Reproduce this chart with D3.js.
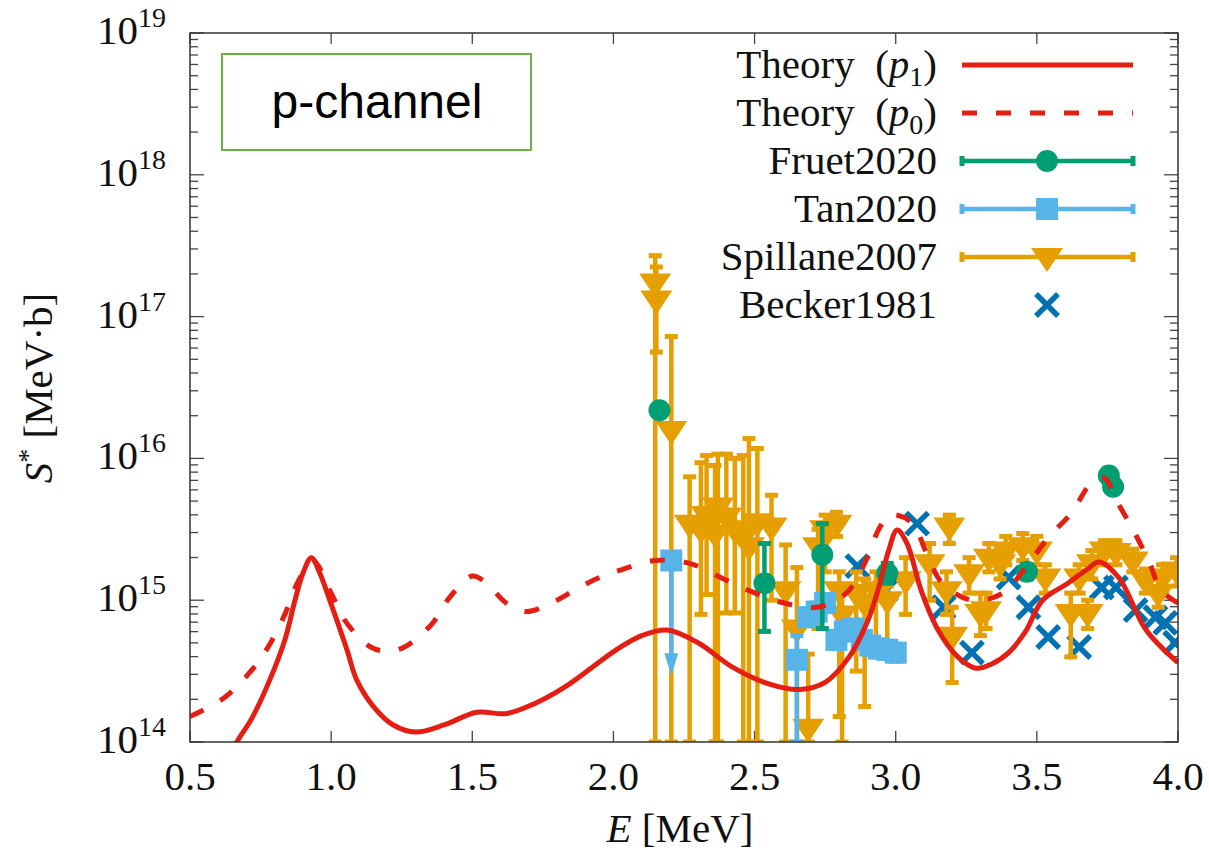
<!DOCTYPE html>
<html>
<head>
  <meta charset="utf-8">
  <script src="https://d3js.org/d3.v7.min.js"></script>
  <style>
    body { margin: 0; background: #fff; }
    text { font-family: "Liberation Serif", "DejaVu Serif", serif; fill: #111; }
  </style>
</head>
<body>
<div id="vis"></div>
<script>
  // values are log10(S*)
  var theoryP1 = [[0.60, 13.75], [0.666, 14.0], [0.72, 14.17], [0.783, 14.44], [0.836, 14.72], [0.872, 15.0],
    [0.90, 15.19], [0.93, 15.30], [0.96, 15.19], [0.995, 15.0], [1.056, 14.65], [1.09, 14.44], [1.15, 14.25],
    [1.22, 14.12], [1.30, 14.07], [1.40, 14.12], [1.516, 14.21],
    [1.62, 14.20], [1.72, 14.27], [1.83, 14.39], [2.01, 14.65], [2.10, 14.75], [2.19, 14.79], [2.30, 14.70],
    [2.42, 14.53], [2.55, 14.41], [2.66, 14.37], [2.75, 14.42], [2.835, 14.60], [2.90, 14.85], [2.94, 15.09],
    [2.975, 15.35], [3.005, 15.495], [3.04, 15.40], [3.09, 15.07], [3.15, 14.79], [3.22, 14.60], [3.285, 14.52],
    [3.34, 14.55], [3.40, 14.63], [3.46, 14.78], [3.52, 15.00], [3.61, 15.12], [3.68, 15.22], [3.72, 15.27],
    [3.79, 15.16], [3.887, 14.79], [4.0, 14.56]];

  var theoryP0 = [[0.5, 14.18], [0.62, 14.31], [0.72, 14.51], [0.78, 14.68], [0.836, 14.9], [0.88, 15.12],
    [0.935, 15.28], [1.0, 15.05], [1.055, 14.84], [1.14, 14.67], [1.20, 14.64], [1.26, 14.67], [1.356, 14.83],
    [1.42, 15.02], [1.50, 15.17], [1.55, 15.12], [1.62, 14.98], [1.69, 14.92], [1.78, 14.98], [1.87, 15.08], [1.95, 15.16],
    [2.02, 15.21], [2.15, 15.28], [2.27, 15.26], [2.38, 15.16], [2.49, 15.06], [2.605, 14.98], [2.72, 14.95],
    [2.825, 15.05], [2.895, 15.28], [2.94, 15.50], [2.98, 15.60], [3.055, 15.55], [3.11, 15.33], [3.165, 15.12],
    [3.27, 15.0], [3.38, 15.05], [3.46, 15.23], [3.54, 15.44], [3.62, 15.61], [3.695, 15.83], [3.74, 15.86],
    [3.78, 15.71], [3.84, 15.50], [3.90, 15.26], [3.94, 15.07], [4.0, 14.98]];

  // [E, value, low, high]
  var fruet2020 = [[2.163, 16.34, 16.30, 16.38], [2.535, 15.12, 14.78, 15.40], [2.74, 15.32, 14.80, 15.54],
    [2.97, 15.19, 15.12, 15.26], [3.465, 15.20, 15.15, 15.25], [3.755, 15.88, 15.85, 15.92], [3.77, 15.80, 15.77, 15.84]];

  var tan2020 = [[2.65, 14.58, 14.0, 14.75], [2.69, 14.88, 14.82, 14.94], [2.72, 14.92, 14.86, 14.98],
    [2.75, 14.98, 14.92, 15.04], [2.79, 14.72, 14.66, 14.78], [2.82, 14.78, 14.72, 14.84], [2.85, 14.80, 14.74, 14.86],
    [2.88, 14.72, 14.66, 14.78], [2.91, 14.68, 14.62, 14.74], [2.94, 14.66, 14.60, 14.72], [2.97, 14.65, 14.59, 14.71],
    [3.0, 14.63, 14.57, 14.69]];
  // upper limit drawn as an arrow: [E, value, arrow tip]
  var tan2020Limit = [[2.205, 15.28, 14.47]];

  var spillane2007 = [[2.148, 17.24, 14.0, 17.43], [2.152, 17.12, 16.75, 17.35], [2.205, 16.20, 14.0, 16.86],
    [2.27, 15.54, 14.0, 15.87], [2.31, 15.50, 14.90, 15.97], [2.33, 15.60, 15.04, 16.02], [2.36, 15.47, 14.0, 15.95],
    [2.37, 15.66, 14.0, 16.03], [2.40, 15.59, 14.91, 16.03], [2.43, 15.50, 14.91, 16.00], [2.46, 15.45, 14.0, 16.02],
    [2.48, 15.38, 14.0, 16.14], [2.51, 15.55, 14.0, 16.07], [2.56, 15.52, 15.0, 15.74], [2.61, 15.07, 14.0, 15.39],
    [2.65, 14.80, 14.0, 15.23], [2.69, 14.10, 14.0, 14.62], [2.725, 15.38, 14.8, 15.5], [2.75, 15.50, 15.2, 15.6],
    [2.79, 15.54, 15.45, 15.62],
    [2.80, 15.07, 14.18, 15.2], [2.81, 14.9, 14.0, 15.1], [2.86, 15.05, 14.5, 15.2], [2.89, 14.98, 14.25, 15.15],
    [2.93, 15.07, 14.6, 15.2], [2.97, 15.0, 14.7, 15.1], [3.035, 15.14, 14.9, 15.3], [3.12, 15.26, 15.0, 15.4],
    [3.19, 15.52, 15.4, 15.6], [3.18, 15.07, 14.9, 15.2], [3.20, 14.75, 14.42, 14.95], [3.26, 15.19, 15.05, 15.3],
    [3.30, 14.91, 14.75, 15.05], [3.32, 14.93, 14.8, 15.05], [3.33, 15.30, 15.2, 15.4], [3.37, 15.26, 15.15, 15.35],
    [3.39, 15.35, 15.25, 15.45], [3.45, 15.38, 15.28, 15.47], [3.50, 15.35, 15.25, 15.45], [3.53, 15.16, 15.05, 15.25],
    [3.62, 14.91, 14.60, 15.05], [3.65, 15.16, 15.05, 15.25], [3.68, 14.91, 14.80, 15.0], [3.695, 15.26, 15.15, 15.35],
    [3.74, 15.35, 15.25, 15.42], [3.78, 15.34, 15.25, 15.42], [3.84, 15.28, 15.2, 15.36], [3.885, 15.14, 15.05, 15.22],
    [3.93, 15.05, 14.95, 15.15], [3.945, 15.16, 15.05, 15.25], [3.995, 15.21, 15.1, 15.3]];

  var becker1981 = [[2.864, 15.24], [2.965, 15.07], [3.076, 15.54], [3.17, 14.95], [3.27, 14.63], [3.40, 15.16],
    [3.47, 14.95], [3.54, 14.74], [3.65, 14.67], [3.73, 15.09], [3.78, 15.09], [3.85, 14.93], [3.92, 14.88],
    [3.955, 14.84], [3.99, 14.70]];

  var xTicks = [0.5, 1.0, 1.5, 2.0, 2.5, 3.0, 3.5, 4.0];
  var yDecades = [14, 15, 16, 17, 18, 19];

  var red = '#e41e12', green = '#009e73', sky = '#56b4e9', orange = '#e69f00', blue = '#0072b2';

  var width = 1209, height = 858;
  var svg = d3.select('#vis').append('svg').attr('width', width).attr('height', height);

  var x = d3.scaleLinear().domain([0.5, 4.0]).range([190, 1178]);
  var y = d3.scaleLog().domain([1e14, 1e19]).range([742, 33]);
  var yv = function (v) { return y(Math.pow(10, v)); };

  svg.append('clipPath').attr('id', 'clip')
    .append('rect').attr('x', 190).attr('y', 33).attr('width', 988).attr('height', 709);

  // ticks
  var axisG = svg.append('g').attr('stroke', '#444').attr('stroke-width', 1.3);
  xTicks.forEach(function (t) {
    axisG.append('line').attr('x1', x(t)).attr('x2', x(t)).attr('y1', 742).attr('y2', 731);
    axisG.append('line').attr('x1', x(t)).attr('x2', x(t)).attr('y1', 33).attr('y2', 44);
  });
  yDecades.forEach(function (d) {
    axisG.append('line').attr('x1', 190).attr('x2', 204).attr('y1', yv(d)).attr('y2', yv(d));
    axisG.append('line').attr('x1', 1178).attr('x2', 1164).attr('y1', yv(d)).attr('y2', yv(d));
    if (d < 19) {
      for (var m = 2; m < 10; m++) {
        var yy = y(m * Math.pow(10, d));
        axisG.append('line').attr('x1', 190).attr('x2', 198).attr('y1', yy).attr('y2', yy);
        axisG.append('line').attr('x1', 1178).attr('x2', 1170).attr('y1', yy).attr('y2', yy);
      }
    }
  });

  // tick labels
  svg.selectAll('.xl').data(xTicks).enter().append('text')
    .attr('x', function (d) { return x(d); }).attr('y', 790)
    .attr('text-anchor', 'middle').style('font-size', '41px')
    .text(function (d) { return d.toFixed(1); });

  yDecades.forEach(function (d) {
    var t = svg.append('text').attr('x', 166).attr('y', yv(d) + 11)
      .attr('text-anchor', 'end').style('font-size', '41px');
    t.append('tspan').text('10');
    t.append('tspan').attr('dy', -17).style('font-size', '28px').text(d);
  });

  // axis titles
  var xt = svg.append('text').attr('x', 680).attr('y', 842).attr('text-anchor', 'middle').style('font-size', '41px');
  xt.append('tspan').style('font-style', 'italic').text('E');
  xt.append('tspan').text(' [MeV]');

  var yt = svg.append('text').attr('transform', 'translate(52,388) rotate(-90)')
    .attr('text-anchor', 'middle').style('font-size', '41px');
  yt.append('tspan').style('font-style', 'italic').text('S');
  yt.append('tspan').attr('dy', -15).style('font-size', '28px').text('*');
  yt.append('tspan').attr('dy', 15).text(' [MeV·b]');

  var plot = svg.append('g').attr('clip-path', 'url(#clip)');

  // Becker1981 crosses
  function cross(g, cx, cy, s) {
    g.append('path').attr('d', 'M' + (cx - s) + ',' + (cy - s) + 'L' + (cx + s) + ',' + (cy + s) +
      'M' + (cx - s) + ',' + (cy + s) + 'L' + (cx + s) + ',' + (cy - s))
      .attr('stroke', blue).attr('stroke-width', 5.5).attr('fill', 'none');
  }
  becker1981.forEach(function (d) { cross(plot, x(d[0]), yv(d[1]), 11); });

  function errBars(g, data, color, cap) {
    data.forEach(function (d) {
      var px = x(d[0]);
      g.append('line').attr('x1', px).attr('x2', px).attr('y1', yv(d[2])).attr('y2', yv(d[3]))
        .attr('stroke', color).attr('stroke-width', 4.5);
      [d[2], d[3]].forEach(function (v) {
        g.append('line').attr('x1', px - cap).attr('x2', px + cap).attr('y1', yv(v)).attr('y2', yv(v))
          .attr('stroke', color).attr('stroke-width', 5);
      });
    });
  }
  function tri(g, cx, cy, color) {
    g.append('path').attr('d', 'M' + (cx - 16) + ',' + (cy - 9) + 'L' + (cx + 16) + ',' + (cy - 9) + 'L' + cx + ',' + (cy + 15) + 'Z')
      .attr('fill', color);
  }

  // Spillane2007
  errBars(plot, spillane2007, orange, 6.5);
  spillane2007.forEach(function (d) { tri(plot, x(d[0]), yv(d[1]), orange); });

  // Tan2020
  errBars(plot, tan2020, sky, 6.5);
  tan2020Limit.forEach(function (d) {
    var px = x(d[0]);
    plot.append('line').attr('x1', px).attr('x2', px).attr('y1', yv(d[1])).attr('y2', yv(d[2]) - 18)
      .attr('stroke', sky).attr('stroke-width', 4.5);
    plot.append('path').attr('d', 'M' + (px - 7) + ',' + (yv(d[2]) - 22) + 'L' + (px + 7) + ',' + (yv(d[2]) - 22) + 'L' + px + ',' + yv(d[2]) + 'Z')
      .attr('fill', sky);
  });
  tan2020.concat(tan2020Limit).forEach(function (d) {
    plot.append('rect').attr('x', x(d[0]) - 11).attr('y', yv(d[1]) - 11).attr('width', 22).attr('height', 22).attr('fill', sky);
  });

  // Fruet2020
  errBars(plot, fruet2020, green, 6.5);
  fruet2020.forEach(function (d) {
    plot.append('circle').attr('cx', x(d[0])).attr('cy', yv(d[1])).attr('r', 11).attr('fill', green);
  });

  // theory curves
  var line = d3.line()
    .x(function (d) { return x(d[0]); })
    .y(function (d) { return yv(d[1]); })
    .curve(d3.curveCatmullRom.alpha(0.5));

  plot.append('path').attr('d', line(theoryP0)).attr('fill', 'none')
    .attr('stroke', red).attr('stroke-width', 5).attr('stroke-dasharray', '15,19');
  plot.append('path').attr('d', line(theoryP1)).attr('fill', 'none')
    .attr('stroke', red).attr('stroke-width', 5);

  // frame
  svg.append('rect').attr('x', 190).attr('y', 33).attr('width', 988).attr('height', 709)
    .attr('fill', 'none').attr('stroke', '#333').attr('stroke-width', 1.5);

  // channel label box
  svg.append('rect').attr('x', 222).attr('y', 54).attr('width', 309).attr('height', 96)
    .attr('fill', '#fff').attr('stroke', '#70ad47').attr('stroke-width', 2);
  svg.append('text').attr('x', 377).attr('y', 118).attr('text-anchor', 'middle')
    .style('font-family', '"Liberation Sans", Arial, sans-serif').style('font-size', '48px').style('fill', '#000')
    .text('p-channel');

  // legend
  var legend = [
    { name: 'Theory', sub: '1', kind: 'solid' },
    { name: 'Theory', sub: '0', kind: 'dash' },
    { name: 'Fruet2020', kind: 'circle', color: green },
    { name: 'Tan2020', kind: 'square', color: sky },
    { name: 'Spillane2007', kind: 'tri', color: orange },
    { name: 'Becker1981', kind: 'cross', color: blue }
  ];
  var lg = svg.append('g');
  legend.forEach(function (d, i) {
    var ly = 65 + i * 48;
    var t = lg.append('text').attr('x', 937).attr('y', ly + 13).attr('text-anchor', 'end').style('font-size', '41px');
    if (d.sub) {
      t.append('tspan').text(d.name + '\u2002(');
      t.append('tspan').style('font-style', 'italic').text('p');
      t.append('tspan').attr('dy', 8).style('font-size', '28px').text(d.sub);
      t.append('tspan').attr('dy', -8).text(')');
    } else {
      t.text(d.name);
    }
    if (d.kind === 'solid') {
      lg.append('line').attr('x1', 962).attr('x2', 1133).attr('y1', ly).attr('y2', ly).attr('stroke', red).attr('stroke-width', 5);
    } else if (d.kind === 'dash') {
      lg.append('line').attr('x1', 962).attr('x2', 1133).attr('y1', ly).attr('y2', ly).attr('stroke', red)
        .attr('stroke-width', 5).attr('stroke-dasharray', '15,19');
    } else if (d.kind !== 'cross') {
      lg.append('line').attr('x1', 962).attr('x2', 1133).attr('y1', ly).attr('y2', ly).attr('stroke', d.color).attr('stroke-width', 4.5);
      [962, 1133].forEach(function (ex) {
        lg.append('line').attr('x1', ex).attr('x2', ex).attr('y1', ly - 5).attr('y2', ly + 5).attr('stroke', d.color).attr('stroke-width', 5);
      });
      if (d.kind === 'circle') lg.append('circle').attr('cx', 1047).attr('cy', ly).attr('r', 11).attr('fill', d.color);
      if (d.kind === 'square') lg.append('rect').attr('x', 1036).attr('y', ly - 11).attr('width', 22).attr('height', 22).attr('fill', d.color);
      if (d.kind === 'tri') tri(lg, 1047, ly, d.color);
    } else {
      cross(lg, 1047, ly, 11);
    }
  });
</script>
</body>
</html>
